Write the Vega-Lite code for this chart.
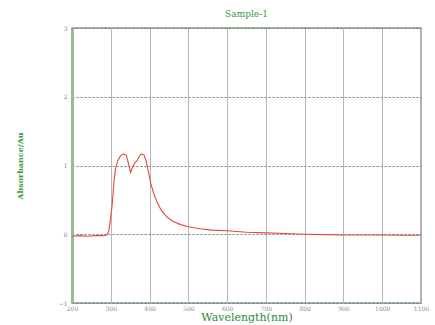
{
  "$schema": "https://vega.github.io/schema/vega-lite/v6.json",
  "autosize": "none",
  "width": 349,
  "height": 275,
  "padding": {"left": 72, "top": 28, "right": 14, "bottom": 22},
  "background": "white",
  "title": {"text": "Sample-1", "color": "#3a9a3a", "font": "DejaVu Serif", "fontSize": 9, "fontWeight": "normal", "offset": 6},
  "config": {
    "view": {"stroke": "#8a9a8a", "strokeWidth": 1.5}
  },
  "data": {"values": [
    {"w": 200, "a": -0.03}, {"w": 220, "a": -0.02}, {"w": 240, "a": -0.03}, {"w": 260, "a": -0.02},
    {"w": 280, "a": -0.02}, {"w": 290, "a": -0.01}, {"w": 295, "a": 0.05}, {"w": 300, "a": 0.25},
    {"w": 304, "a": 0.45}, {"w": 308, "a": 0.75}, {"w": 312, "a": 0.95}, {"w": 318, "a": 1.07},
    {"w": 325, "a": 1.14}, {"w": 332, "a": 1.17}, {"w": 340, "a": 1.15}, {"w": 346, "a": 1.02},
    {"w": 351, "a": 0.9}, {"w": 356, "a": 0.97}, {"w": 362, "a": 1.04}, {"w": 368, "a": 1.07},
    {"w": 374, "a": 1.14}, {"w": 380, "a": 1.17}, {"w": 386, "a": 1.15}, {"w": 392, "a": 1.05},
    {"w": 398, "a": 0.88}, {"w": 404, "a": 0.72}, {"w": 412, "a": 0.57}, {"w": 420, "a": 0.46},
    {"w": 430, "a": 0.35}, {"w": 445, "a": 0.25}, {"w": 460, "a": 0.19}, {"w": 480, "a": 0.14},
    {"w": 500, "a": 0.11}, {"w": 530, "a": 0.08}, {"w": 560, "a": 0.06}, {"w": 600, "a": 0.05},
    {"w": 650, "a": 0.03}, {"w": 700, "a": 0.02}, {"w": 750, "a": 0.01}, {"w": 800, "a": 0.0},
    {"w": 850, "a": -0.005}, {"w": 900, "a": -0.01}, {"w": 950, "a": -0.01}, {"w": 1000, "a": -0.01},
    {"w": 1050, "a": -0.015}, {"w": 1100, "a": -0.015}
  ]},
  "mark": {"type": "line", "color": "#e8463c", "strokeWidth": 1.1},
  "encoding": {
    "x": {
      "field": "w", "type": "quantitative",
      "scale": {"domain": [200, 1100], "nice": false, "zero": false},
      "axis": {
        "values": [200, 300, 400, 500, 600, 700, 800, 900, 1000, 1100], "format": "d",
        "labelFlush": false, "labelOverlap": false,
        "title": "Wavelength(nm)", "titleColor": "#2f8a2f", "titleFont": "DejaVu Serif",
        "titleFontSize": 11, "titleFontWeight": "normal", "titlePadding": 0,
        "labelColor": "#888888", "labelFont": "DejaVu Serif", "labelFontSize": 6, "labelPadding": 2,
        "domain": false, "ticks": false,
        "grid": true, "gridColor": "#b8b8b8", "gridWidth": 1
      }
    },
    "y": {
      "field": "a", "type": "quantitative",
      "scale": {"domain": [-1, 3], "nice": false, "zero": false},
      "axis": {
        "values": [-1, 0, 1, 2, 3], "format": "d", "labelFlush": false,
        "title": "Absorbance/Au", "titleColor": "#3a9a3a", "titleFont": "DejaVu Serif",
        "titleFontSize": 8, "titleFontWeight": "bold", "titlePadding": 34,
        "labelColor": "#777777", "labelFont": "DejaVu Serif", "labelFontSize": 6, "labelPadding": 5,
        "domain": true, "domainColor": "#9ab89a", "domainWidth": 3, "ticks": false,
        "grid": true, "gridColor": "#5a8a5a", "gridDash": [2, 2], "gridWidth": 1
      }
    }
  }
}
